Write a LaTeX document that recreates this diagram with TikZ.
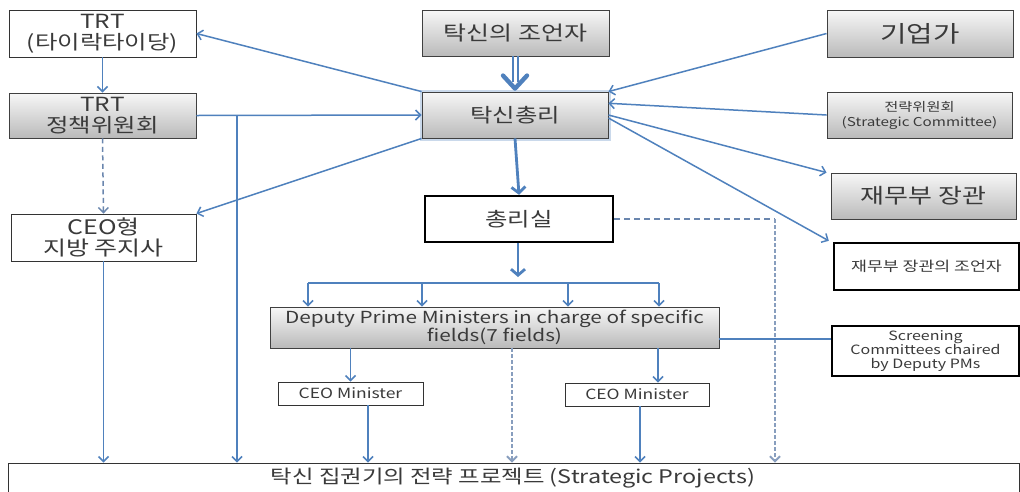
\documentclass[tikz,border=0pt]{standalone}
\usepackage{fontspec}
\setmainfont{Noto Sans CJK KR}
\newfontfamily\krw[FakeStretch=1.25]{Noto Sans CJK KR}
\usetikzlibrary{arrows.meta,calc}
\definecolor{ablue}{HTML}{4F81BD}
\definecolor{dblue}{HTML}{6A86AE}
\definecolor{txt}{HTML}{3A3A3A}
\definecolor{gtop}{HTML}{F7F7F7}
\definecolor{gbot}{HTML}{BABABA}
\tikzset{
  wbox/.style={draw=black!80, line width=0.9pt, fill=white, text=txt, align=center, inner sep=0pt},
  gbox/.style={draw=black!75, line width=0.9pt, top color=gtop, bottom color=gbot, text=txt, align=center, inner sep=0pt},
  tbox/.style={draw=black, line width=2.4pt, fill=white, text=txt, align=center, inner sep=0pt},
  conn/.style={draw=ablue, line width=1.5pt, -{Straight Barb[length=5pt,width=10pt]}},
  plain/.style={draw=ablue, line width=1.5pt},
  bigconn/.style={draw=ablue, line width=2.8pt, -{Straight Barb[length=6pt,width=14pt]}},
  dconn/.style={draw=dblue, line width=1.5pt, dash pattern=on 5pt off 3.5pt, -{Straight Barb[length=5pt,width=10pt]}},
  dvconn/.style={draw=dblue!80, line width=1.9pt, dash pattern=on 3.5pt off 2.5pt, -{Straight Barb[length=5pt,width=10pt]}},
}
\begin{document}
\begin{tikzpicture}[x=1pt,y=-1pt]
\useasboundingbox[fill=white] (0,0) rectangle (1020,491);
% left column
\node[wbox, minimum width=187pt, minimum height=47pt, font=\krw\fontsize{19.5}{21}\selectfont] (trt) at (102.5,33.5) {TRT\\(타이락타이당)};
\node[gbox, minimum width=187pt, minimum height=45pt, font=\krw\fontsize{19.5}{21}\selectfont] (trtp) at (102.5,115.5) {TRT\\정책위원회};
\node[wbox, minimum width=185pt, minimum height=47pt, font=\krw\fontsize{20}{21}\selectfont] (ceo) at (103.5,237.5) {CEO형\\지방 주지사};
% centre column
\node[gbox, minimum width=187pt, minimum height=46pt, font=\krw\fontsize{20}{22}\selectfont] (adv) at (515.5,33) {탁신의 조언자};
\node[gbox, minimum width=186pt, minimum height=46pt, font=\krw\fontsize{19.5}{22}\selectfont, preaction={draw=ablue!30, line width=5pt}] (pm) at (515,115) {탁신총리};
\node[tbox, minimum width=188pt, minimum height=46pt, font=\krw\fontsize{19.5}{22}\selectfont] (opm) at (519,219) {총리실};
% right column
\node[gbox, minimum width=186pt, minimum height=47pt, font=\krw\fontsize{23}{25}\selectfont] (biz) at (920,33.5) {기업가};
\node[gbox, minimum width=185pt, minimum height=46pt, font=\krw\fontsize{12.2}{15}\selectfont] (sc) at (919.5,115) {전략위원회\\(Strategic Committee)};
\node[gbox, minimum width=185pt, minimum height=46pt, font=\krw\fontsize{20.8}{22}\selectfont] (mof) at (923.5,196) {재무부 장관};
\node[tbox, minimum width=185pt, minimum height=47pt, font=\krw\fontsize{13.8}{15}\selectfont] (mofadv) at (926.5,266.5) {재무부 장관의 조언자};
% lower part
\node[gbox, minimum width=449pt, minimum height=41pt, font=\krw\fontsize{16.6}{17}\selectfont] (dpm) at (494.5,327.5) {Deputy Prime Ministers in charge of specific\\fields(7 fields)};
\node[tbox, minimum width=187pt, minimum height=50pt, font=\krw\fontsize{12.8}{14}\selectfont] (scr) at (925.5,351) {Screening\\Committees chaired\\by Deputy PMs};
\node[wbox, minimum width=145pt, minimum height=23pt, font=\krw\fontsize{14}{15}\selectfont] (ceom1) at (350.5,393.5) {CEO Minister};
\node[wbox, minimum width=144pt, minimum height=23pt, font=\krw\fontsize{14}{15}\selectfont] (ceom2) at (637,394.5) {CEO Minister};
\node[wbox, minimum width=1011pt, minimum height=40pt] (sp) at (513.5,483) {};
\node[text=txt, font=\krw\fontsize{18.7}{20}\selectfont, inner sep=0pt] (spt) at (513,478.5) {탁신 집권기의 전략 프로젝트 (Strategic Projects)};
% connectors
\draw[conn] (pm.north west) -- (trt.east);
\draw[conn] (trt.south) -- (trtp.north);
\draw[conn] (trtp.east) -- (pm.west);
\coordinate (j1) at (237,115.5);
\draw[conn] (j1) -- (j1 |- sp.north);
\draw[dconn] (trtp.south) -- (ceo.north);
\draw[conn] (pm.south west) -- (ceo.north east);
\draw[conn] (ceo.south) -- (ceo.south |- sp.north);
% double arrow from adviser
\draw[plain, line width=1.3pt] ($(adv.south)+(-2.6,0)$) -- ++(0,26);
\draw[plain, line width=1.3pt] ($(adv.south)+(2.6,0)$) -- ++(0,26);
\draw[ablue, line width=4.4pt, line cap=round, line join=round] ($(pm.north)+(-12,-16)$) -- ($(pm.north)+(0,-3)$) -- ($(pm.north)+(12,-16)$);
% right side links
\draw[conn] (biz.west) -- (pm.north east);
\draw[conn] (sc.west) -- ($(pm.north east)!0.25!(pm.south east)$);
\draw[conn] (pm.east) -- ($(mof.north west)+(-4,0)$);
\draw[conn] ($(pm.east)+(0,3)$) -- ($(mofadv.north west)+(-4,-1)$);
% prime minister office
\draw[bigconn] (pm.south) -- (opm.north);
\coordinate (hb) at (518,283);
\draw[bigconn] (opm.south -| hb) -- ($(hb)+(0,-6)$);
\coordinate (hl) at (308,283);
\coordinate (hm1) at (422,283);
\coordinate (hm2) at (568,283);
\coordinate (hr) at (659,283);
\draw[plain] (hl) -- (hr);
\draw[conn] (hl) -- (hl |- dpm.north);
\draw[conn] (hm1) -- (hm1 |- dpm.north);
\draw[conn] (hm2) -- (hm2 |- dpm.north);
\draw[conn] (hr) -- (hr |- dpm.north);
\coordinate (dr) at (775,219);
\draw[draw=dblue, line width=1.4pt, dash pattern=on 6pt off 4pt] (opm.east) -- (dr);
\draw[dvconn] (dr) -- (dr |- sp.north);
% deputy PMs
\draw[conn] (ceom1.north |- dpm.south) -- (ceom1.north);
\coordinate (c2a) at (658,348);
\draw[conn] (c2a) -- (c2a |- ceom2.north);
\coordinate (dd) at (512,348);
\draw[dvconn] (dd) -- (dd |- sp.north);
\coordinate (ds) at (719,339);
\draw[plain] (ds) -- (ds -| scr.west);
\coordinate (c1b) at (368,405);
\draw[conn] (c1b) -- (c1b |- sp.north);
\coordinate (c2b) at (640,406);
\draw[conn] (c2b) -- (c2b |- sp.north);
\end{tikzpicture}
\end{document}
